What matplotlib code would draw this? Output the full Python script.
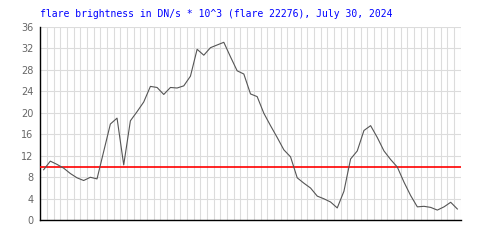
import numpy as np
import matplotlib
matplotlib.use("Agg")
import matplotlib.pyplot as plt

values = [9.4, 11.0, 10.4, 9.7, 8.7, 7.9, 7.4, 8.0, 7.7, 12.8,
          17.9, 19.0, 10.3, 18.5, 20.2, 22.0, 24.9, 24.7, 23.4, 24.7,
          24.6, 25.0, 26.8, 31.8, 30.7, 32.1, 32.6, 33.1, 30.4, 27.8,
          27.2, 23.5, 23.0, 19.9, 17.6, 15.4, 13.1, 11.8, 7.9, 6.9,
          6.0, 4.5, 4.0, 3.4, 2.3, 5.4, 11.4, 12.9, 16.7, 17.6,
          15.4, 12.9, 11.3, 9.9, 7.1, 4.6, 2.5, 2.6, 2.4, 1.9,
          2.5, 3.35, 2.1]
threshold = 10
y_ticks = [0, 4, 8, 12, 16, 20, 24, 28, 32, 36]
title = "flare brightness in DN/s * 10^3 (flare 22276), July 30, 2024"

fig = plt.figure(figsize=(5, 2.5), dpi=100)
ax = fig.add_axes([40.3/500, 1-220.3/250, 420.4/500, 193.6/250])
n = len(values)
x = np.arange(n) + 0.5
ax.set_xlim(0, n)
ax.set_ylim(0, 36)
ax.set_xticks(np.arange(0, n + 1))
ax.set_yticks(y_ticks)
ax.grid(True, color="#dcdcdc", linewidth=0.8)
ax.set_axisbelow(True)
ax.tick_params(axis="x", length=0, labelbottom=False)
ax.tick_params(axis="y", length=0, labelsize=7, labelcolor="#666666", pad=5)
for s in ["top", "right"]:
    ax.spines[s].set_visible(False)
for s in ["left", "bottom"]:
    ax.spines[s].set_color("black")
    ax.spines[s].set_linewidth(1.0)
ax.axhline(threshold, color="#ff0000", linewidth=1.2, zorder=3)
ax.plot(x, values, color="#555555", linewidth=0.8, zorder=4)
fig.text(40/500, 1-14.3/250, title, color="#0000ff", fontsize=7.05,
         family="DejaVu Sans Mono", ha="left", va="center")
fig.savefig("out.png", dpi=100)
